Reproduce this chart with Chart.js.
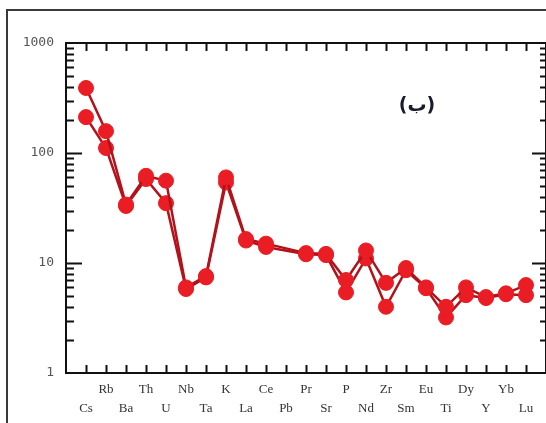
<!DOCTYPE html>
<html>
<head>
<meta charset="utf-8">
<script src="https://cdn.jsdelivr.net/npm/chart.js@4"></script>
<style>
  html, body { margin: 0; padding: 0; background: #fff; }
  #wrap { width: 546px; height: 423px; }
</style>
</head>
<body>
<div id="wrap"><canvas id="spider" width="546" height="423"></canvas></div>
<script>
// elements in spider-diagram order
const elements = ['Cs', 'Rb', 'Ba', 'Th', 'U', 'Nb', 'Ta', 'K', 'La', 'Ce', 'Pb', 'Pr', 'Sr',
                  'P', 'Nd', 'Zr', 'Sm', 'Eu', 'Ti', 'Dy', 'Y', 'Yb', 'Lu'];
// normalised concentrations (Pb not plotted)
const sampleA = [390, 158, 34, 62, 56, 6.0, 7.6, 60, 16.5, 15, null, 12.3, 12.1, 7.0, 13.0,
                 6.6, 9.0, 6.0, 4.0, 6.0, 4.9, 5.3, 6.3];
const sampleB = [212, 111, 33, 58, 35, 5.8, 7.4, 54, 16, 14, null, 12, 11.8, 5.4, 11.0,
                 4.0, 8.6, 5.9, 3.2, 5.1, 4.8, 5.2, 5.1];
const yTicks = [1, 10, 100, 1000];

const toPoints = arr => arr.map((v, i) => ({ x: i, y: v }));

// frame, inward tick marks and panel label
const framePlugin = {
  id: 'frame',
  afterDraw(chart) {
    const { ctx, chartArea: a, scales } = chart;
    const x = scales.x, y = scales.y;
    ctx.save();
    // outer figure frame
    ctx.strokeStyle = '#3a3a3a';
    ctx.lineWidth = 2;
    ctx.beginPath();
    ctx.moveTo(7, 423);
    ctx.lineTo(7, 10);
    ctx.lineTo(546, 10);
    ctx.stroke();

    ctx.strokeStyle = '#111';
    ctx.lineWidth = 2;
    ctx.strokeRect(a.left, a.top, a.right - a.left, a.bottom - a.top);

    ctx.lineWidth = 2;
    ctx.beginPath();
    // category ticks top and bottom
    elements.forEach((e, i) => {
      const px = Math.round(x.getPixelForValue(i)) + 0.5;
      ctx.moveTo(px, a.top); ctx.lineTo(px, a.top + 8);
      ctx.moveTo(px, a.bottom); ctx.lineTo(px, a.bottom - 8);
    });
    // log ticks left and right
    for (let d = 1; d < 1000; d *= 10) {
      for (let m = 1; m <= 9; m++) {
        const v = d * m;
        if (v === 1) continue;
        const py = Math.round(y.getPixelForValue(v)) + 0.5;
        const major = m === 1;
        ctx.moveTo(a.left, py); ctx.lineTo(a.left + (major ? 16 : 8), py);
        ctx.moveTo(a.right, py); ctx.lineTo(a.right - (major ? 14 : 6), py);
      }
    }
    ctx.stroke();

    // panel label
    ctx.fillStyle = '#1a1a2e';
    ctx.font = 'bold 19px "DejaVu Sans"';
    ctx.textAlign = 'center';
    ctx.textBaseline = 'middle';
    ctx.fillText('(ب)', 417, 106);
    ctx.restore();
  }
};

const lineColor = '#b3121a';
const dotColor = '#ea1c24';

const spiderChart = new Chart(document.getElementById('spider').getContext('2d'), {
  type: 'line',
  data: {
    datasets: [{
      label: 'A',
      data: toPoints(sampleA),
      borderColor: lineColor,
      borderWidth: 2.5,
      pointBackgroundColor: dotColor,
      pointBorderColor: dotColor,
      pointRadius: 7.5,
      pointBorderWidth: 1,
      spanGaps: true
    }, {
      label: 'B',
      data: toPoints(sampleB),
      borderColor: lineColor,
      borderWidth: 2.5,
      pointBackgroundColor: dotColor,
      pointBorderColor: dotColor,
      pointRadius: 7.5,
      pointBorderWidth: 1,
      spanGaps: true
    }]
  },
  options: {
    responsive: false,
    animation: false,
    clip: false,
    layout: { autoPadding: false, padding: { top: 43, right: 0, left: 0, bottom: 0 } },
    plugins: { legend: { display: false }, tooltip: { enabled: false } },
    scales: {
      x: {
        type: 'linear',
        min: -1,
        max: 23,
        afterBuildTicks: s => { s.ticks = elements.map((e, i) => ({ value: i })); },
        afterFit: s => { s.height = 50; },
        grid: { display: false },
        border: { display: false },
        ticks: {
          padding: -1,
          maxRotation: 0,
          autoSkip: false,
          color: '#333',
          font: { family: 'Liberation Serif', size: 13, lineHeight: 1.45 },
          callback: v => (v % 2 === 0 ? ['', elements[v]] : [elements[v], ''])
        }
      },
      y: {
        type: 'logarithmic',
        min: 1,
        max: 1000,
        afterBuildTicks: s => { s.ticks = yTicks.map(v => ({ value: v })); },
        afterFit: s => { s.width = 66; },
        grid: { display: false },
        border: { display: false },
        ticks: {
          padding: 4,
          color: '#555',
          font: { family: 'DejaVu Sans Mono', size: 13 },
          callback: v => String(v)
        }
      }
    }
  },
  plugins: [framePlugin]
});
</script>
</body>
</html>
